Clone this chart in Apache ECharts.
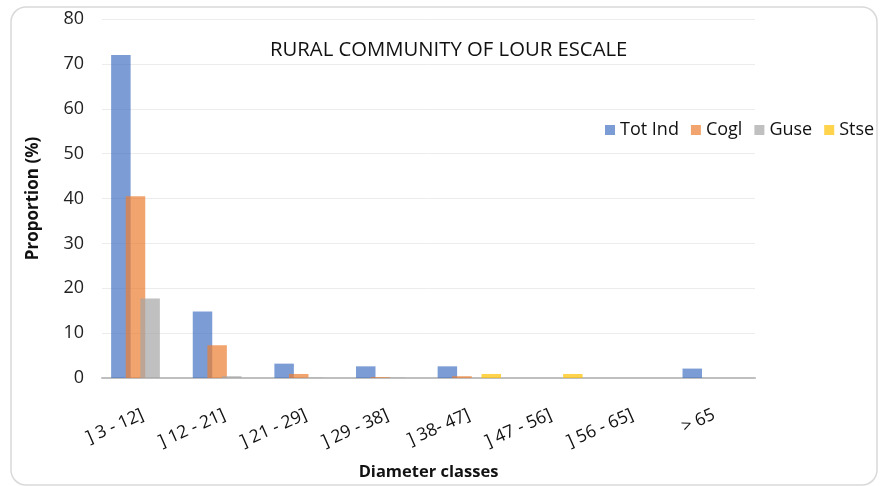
<!DOCTYPE html>
<html><head><meta charset="utf-8">
<script src="https://cdn.jsdelivr.net/npm/echarts@6/dist/echarts.min.js"></script>
<style>html,body{margin:0;padding:0;background:#fff}#c{width:888px;height:486px}</style>
</head><body><div id="c"></div>
<script>
var categories = ["] 3 - 12]", "] 12 - 21]", "] 21 - 29]", "] 29 - 38]", "] 38- 47]", "] 47 - 56]", "] 56 - 65]", "> 65"];
var totInd = [72, 14.8, 3.2, 2.6, 2.6, 0, 0, 2.1];
var cogl   = [40.5, 7.3, 0.9, 0.2, 0.4, 0, 0, 0];
var guse   = [17.7, 0.4, 0.1, 0.1, 0, 0, 0, 0];
var stse   = [0, 0, 0, 0, 0.9, 0.9, 0, 0];
var yTicks = [0, 10, 20, 30, 40, 50, 60, 70, 80];

var font = "'Open Sans', 'Liberation Sans', sans-serif";
var chart = echarts.init(document.getElementById('c'), null, {renderer: 'canvas'});
function s(name, data, color) {
  return {
    name: name, type: 'bar', data: data,
    barWidth: 19.5, barGap: '-25%',
    itemStyle: {color: color, opacity: 0.7},
    emphasis: {disabled: true}
  };
}
chart.setOption({
  animation: false,
  backgroundColor: '#fff',
  graphic: [{
    type: 'rect', z: -10,
    shape: {x: 11, y: 7, width: 866, height: 478, r: 15},
    style: {fill: '#fff', stroke: '#d9d9d9', lineWidth: 1.5}
  }],
  title: {
    text: 'RURAL COMMUNITY OF LOUR ESCALE',
    left: 258, top: 36,
    backgroundColor: '#fff',
    padding: [4, 12],
    textStyle: {fontFamily: font, fontSize: 20.3, fontWeight: 'normal', color: '#111'}
  },
  legend: {
    left: 600, top: 116,
    itemWidth: 10, itemHeight: 10, itemGap: 12,
    icon: 'rect',
    textStyle: {fontFamily: font, fontSize: 18, color: '#111'},
    data: ['Tot Ind', 'Cogl', 'Guse', 'Stse']
  },
  grid: {left: 102, right: 133, top: 19, bottom: 106, containLabel: false},
  xAxis: {
    type: 'category', data: categories,
    name: 'Diameter classes', nameLocation: 'middle', nameGap: 86,
    nameTextStyle: {fontFamily: font, fontSize: 16.5, fontWeight: 'bold', color: '#111'},
    axisLine: {lineStyle: {color: '#bfbfbf', width: 2}},
    axisTick: {show: false},
    axisLabel: {rotate: 24, fontFamily: font, fontSize: 17.5, color: '#111', margin: 36, interval: 0}
  },
  yAxis: {
    type: 'value', min: yTicks[0], max: yTicks[yTicks.length - 1], interval: 10,
    name: 'Proportion (%)', nameLocation: 'middle', nameGap: 60, nameRotate: 90,
    nameTextStyle: {fontFamily: font, fontSize: 17, fontWeight: 'bold', color: '#111'},
    axisLine: {show: false}, axisTick: {show: false},
    axisLabel: {fontFamily: font, fontSize: 18, color: '#222', margin: 18},
    splitLine: {lineStyle: {color: '#ececec', width: 1}}
  },
  series: [
    s('Tot Ind', totInd, '#4472C4'),
    s('Cogl', cogl, '#ED7D31'),
    s('Guse', guse, '#A5A5A5'),
    s('Stse', stse, '#FFC000')
  ]
});
</script>
</body></html>
